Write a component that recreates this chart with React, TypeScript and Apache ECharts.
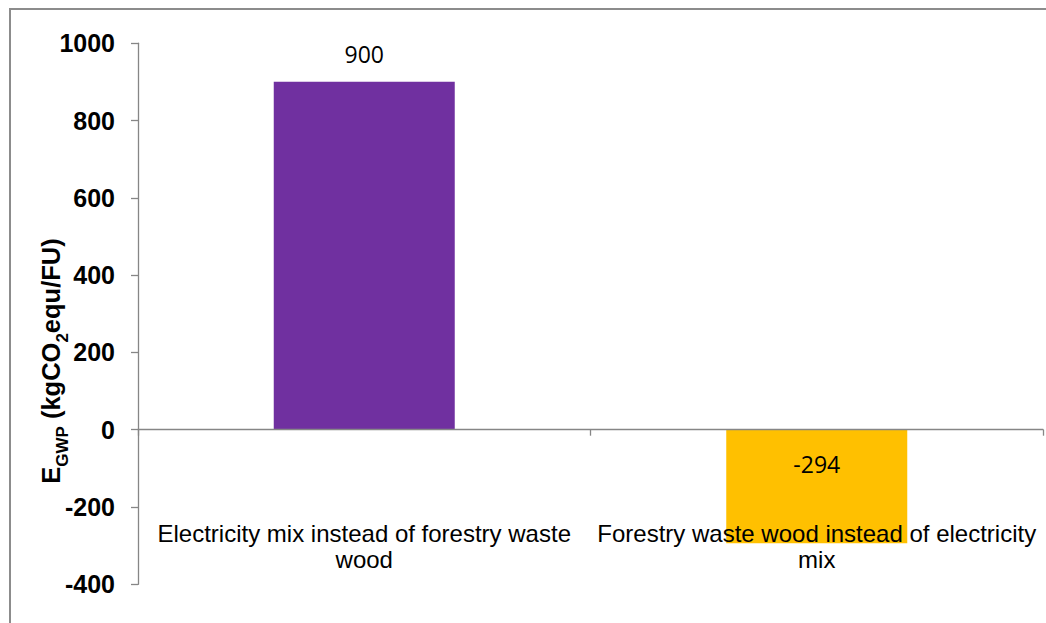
import React, { useEffect, useRef } from "react";
import * as echarts from "echarts";

const categories = [
  "Electricity mix instead of forestry waste\nwood",
  "Forestry waste wood instead of electricity\nmix",
];
const values = [900, -294];
const barColors = ["#7030A0", "#FFC000"];
const yTicks = { min: -400, max: 1000, interval: 200 };

const SANS = "Liberation Sans, Arial, sans-serif";

export default function App() {
  const ref = useRef<HTMLDivElement>(null);

  useEffect(() => {
    if (!ref.current) return;
    const chart = echarts.init(ref.current, null, { renderer: "svg" });
    const axisGray = "#868686";
    chart.setOption({
      animation: false,
      backgroundColor: "#ffffff",
      graphic: [
        {
          type: "rect",
          shape: { x: 10, y: 9, width: 1100, height: 700 },
          style: { fill: "none", stroke: "#8c8c8c", lineWidth: 2 },
          silent: true,
          z: -1,
        },
        {
          // rotated axis title with subscripts
          type: "text",
          x: 50,
          y: 361,
          rotation: Math.PI / 2,
          silent: true,
          style: {
            text: "{b|E}{s|GWP}{b| (kgCO}{s|2}{b|equ/FU)}",
            align: "center",
            verticalAlign: "middle",
            rich: {
              b: {
                fontFamily: SANS,
                fontWeight: "bold",
                fontSize: 25.5,
                fill: "#000",
                lineHeight: 28,
                verticalAlign: "bottom",
              },
              s: {
                fontFamily: SANS,
                fontWeight: "bold",
                fontSize: 17,
                fill: "#000",
                lineHeight: 20,
                verticalAlign: "bottom",
                padding: [0, 0, -7, 0],
              },
            },
          },
        },
      ],
      grid: {
        left: 138,
        right: 3,
        top: 43.2,
        bottom: 38.7,
        containLabel: false,
        outerBoundsMode: "none",
      },
      xAxis: {
        type: "category",
        data: categories,
        z: 5,
        axisLine: { onZero: true, lineStyle: { color: axisGray, width: 1.3 } },
        axisTick: { show: true, length: 6, lineStyle: { color: axisGray, width: 1.3 } },
        axisLabel: {
          margin: -64,
          color: "#000",
          fontFamily: SANS,
          fontSize: 24,
          lineHeight: 26,
          interval: 0,
        },
      },
      yAxis: {
        type: "value",
        min: yTicks.min,
        max: yTicks.max,
        interval: yTicks.interval,
        axisLine: { show: true, lineStyle: { color: axisGray, width: 1.3 } },
        axisTick: { show: true, length: 7, lineStyle: { color: axisGray, width: 1.3 } },
        splitLine: { show: false },
        axisLabel: {
          margin: 23,
          color: "#000",
          fontFamily: SANS,
          fontWeight: "bold",
          fontSize: 25,
          formatter: (v: number) => String(v),
        },
      },
      series: [
        {
          type: "bar",
          barWidth: "40%",
          data: values.map((v, i) => ({
            value: v,
            itemStyle: { color: barColors[i] },
            label:
              v >= 0
                ? { show: true, position: "top", distance: 16 }
                : { show: true, position: "insideTop", distance: 23 },
          })),
          label: {
            color: "#000",
            fontFamily: "Open Sans, Noto Sans, sans-serif",
            fontSize: 23,
          },
        },
      ],
    });
    return () => chart.dispose();
  }, []);

  return (
    <div
      ref={ref}
      style={{ position: "absolute", left: 0, top: 0, width: 1046, height: 623 }}
    />
  );
}
